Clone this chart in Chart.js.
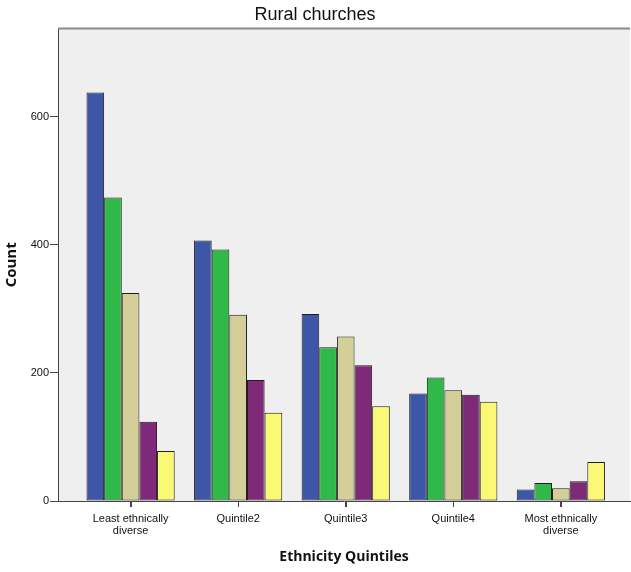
<!DOCTYPE html>
<html>
<head>
<meta charset="utf-8">
<script src="https://cdn.jsdelivr.net/npm/chart.js@4"></script>
<style>
  html, body { margin: 0; padding: 0; background: #fff; }
  #wrap { width: 631px; height: 572px; }
</style>
</head>
<body>
<div id="wrap"><canvas id="chart"></canvas></div>
<script>
// categories (x axis) and the five series
const categories = [
    ['Least ethnically', 'diverse'],
    ['Quintile2'],
    ['Quintile3'],
    ['Quintile4'],
    ['Most ethnically', 'diverse']
];
const blue   = [638, 407, 292, 168, 18];
const green  = [474, 393, 240, 193, 28];
const tan    = [325, 291, 257, 173, 20];
const purple = [124, 189, 212, 166, 31];
const yellow = [78, 138, 148, 155, 61];
const yTicks = [0, 200, 400, 600];

const series = [blue, green, tan, purple, yellow];
const colors = ['#3d56a8', '#30b849', '#d4cf98', '#7e2a79', '#fbf876'];

// plot background, grey top frame line, category tick marks
const frame = {
    id: 'frame',
    beforeDraw(chart) {
        const { ctx, chartArea: a } = chart;
        ctx.save();
        ctx.fillStyle = '#efefef';
        ctx.fillRect(a.left, a.top, a.right - a.left, a.bottom - a.top);
        ctx.restore();
    },
    afterDraw(chart) {
        const { ctx, chartArea: a } = chart;
        const x = chart.scales.x;
        ctx.save();
        ctx.strokeStyle = '#8a8a8a';
        ctx.lineWidth = 2;
        ctx.beginPath();
        ctx.moveTo(a.left, a.top);
        ctx.lineTo(a.right, a.top);
        ctx.stroke();
        ctx.strokeStyle = '#444';
        ctx.lineWidth = 1;
        ctx.beginPath();
        categories.forEach((c, i) => {
            const px = Math.round(x.getPixelForValue(i)) + 0.5;
            ctx.moveTo(px, a.bottom);
            ctx.lineTo(px, a.bottom + 6);
        });
        ctx.stroke();
        ctx.restore();
    }
};

new Chart(document.getElementById('chart').getContext('2d'), {
    type: 'bar',
    data: {
        datasets: series.map((s, k) => ({
            data: s.map((v, i) => ({ x: i, y: v })),
            backgroundColor: colors[k],
            borderColor: '#1e1e1e',
            borderWidth: 1,
            borderSkipped: false,
            categoryPercentage: 0.82,
            barPercentage: 1
        }))
    },
    options: {
        responsive: true,
        maintainAspectRatio: false,
        animation: false,
        layout: { padding: { top: 0, right: 1, bottom: 0, left: 0 } },
        plugins: {
            legend: { display: false },
            tooltip: { enabled: false },
            title: {
                display: true,
                text: 'Rural churches',
                color: '#111',
                font: { family: 'Liberation Sans', size: 18, weight: 'normal' },
                padding: { top: 4, bottom: 3 }
            }
        },
        scales: {
            x: {
                type: 'linear',
                offset: false,
                min: -0.675,
                max: 4.643,
                afterBuildTicks: s => { s.ticks = categories.map((c, i) => ({ value: i })); },
                afterFit: s => { s.height = 71; },
                grid: { offset: false, drawOnChartArea: false, tickLength: 6, color: '#444', tickColor: '#444', tickWidth: 1 },
                border: { color: '#444', width: 1 },
                ticks: {
                    callback: v => categories[v],
                    color: '#111',
                    padding: 6,
                    maxRotation: 0,
                    autoSkip: false,
                    font: { family: 'Liberation Sans', size: 11, lineHeight: 1.09 }
                },
                title: {
                    display: true,
                    text: 'Ethnicity Quintiles',
                    color: '#111',
                    font: { family: 'Open Sans', size: 14, weight: 'bold' },
                    padding: { top: 0, bottom: 7 }
                }
            },
            y: {
                min: 0,
                max: 738,
                afterBuildTicks: s => { s.ticks = yTicks.map(v => ({ value: v })); },
                afterFit: s => { s.width = 58; },
                grid: { drawOnChartArea: false, tickLength: 8, color: '#444' },
                border: { color: '#444', width: 1 },
                ticks: {
                    color: '#111',
                    padding: 1,
                    font: { family: 'Liberation Sans', size: 11 }
                },
                title: {
                    display: true,
                    text: 'Count',
                    color: '#111',
                    font: { family: 'Open Sans', size: 15, weight: 'bold' },
                    padding: { top: 3, bottom: 0 }
                }
            }
        }
    },
    plugins: [frame]
});
</script>
</body>
</html>
